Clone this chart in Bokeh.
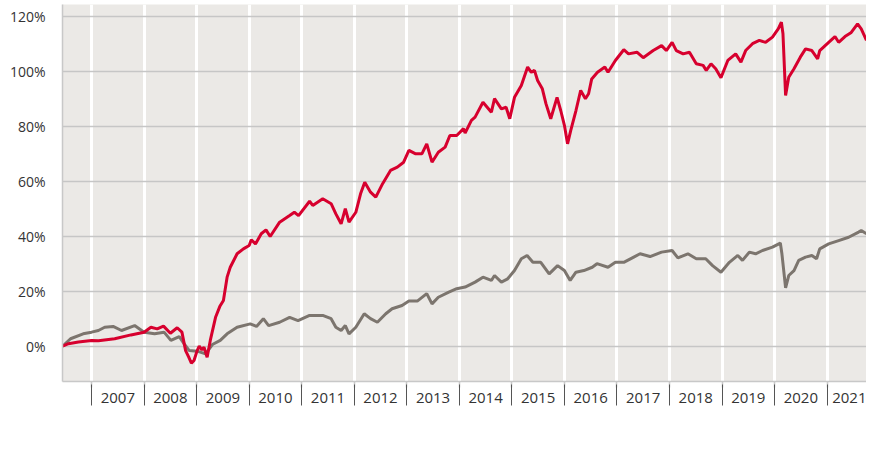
from bokeh.plotting import figure
from bokeh.models import (Range1d, FixedTicker, LinearAxis, Legend, LegendItem,
                          PrintfTickFormatter, CustomJSTickFormatter)
from bokeh.embed import file_html
from bokeh.resources import INLINE

# ---------------- data (decimal years, cumulative performance in %) ----------------
years = list(range(2007, 2022))
year_labels = [str(y) for y in years]
y_ticks = [0, 20, 40, 60, 80, 100, 120]

series_names = ["StarCapital Multi Income A", "Morningstar-Peergroup Mischfonds EUR defensiv"]

red_t = [2006.45, 2006.56, 2006.75, 2007.0, 2007.13, 2007.44, 2007.75, 2008.0, 2008.13, 2008.25,
         2008.37, 2008.5, 2008.63, 2008.72, 2008.79, 2008.85, 2008.9, 2008.95, 2009.01, 2009.05,
         2009.1, 2009.14, 2009.2, 2009.26, 2009.36, 2009.44, 2009.51, 2009.58, 2009.64, 2009.77,
         2009.89, 2010.0, 2010.04, 2010.12, 2010.23, 2010.32, 2010.4, 2010.58, 2010.77, 2010.86,
         2010.94, 2011.15, 2011.21, 2011.4, 2011.56, 2011.65, 2011.75, 2011.83, 2011.9, 2012.03,
         2012.12, 2012.2, 2012.31, 2012.41, 2012.54, 2012.69, 2012.82, 2012.94, 2013.04, 2013.16,
         2013.29, 2013.38, 2013.48, 2013.6, 2013.73, 2013.82, 2013.95, 2014.08, 2014.11, 2014.23,
         2014.3, 2014.45, 2014.61, 2014.67, 2014.8, 2014.89, 2014.96, 2015.05, 2015.18, 2015.3,
         2015.37, 2015.43, 2015.49, 2015.58, 2015.65, 2015.74, 2015.86, 2015.93, 2016.0, 2016.06,
         2016.12, 2016.22, 2016.31, 2016.4, 2016.46, 2016.52, 2016.63, 2016.77, 2016.83, 2016.97,
         2017.13, 2017.22, 2017.38, 2017.5, 2017.69, 2017.85, 2017.94, 2018.05, 2018.13, 2018.26,
         2018.38, 2018.51, 2018.64, 2018.7, 2018.79, 2018.88, 2018.98, 2019.11, 2019.26, 2019.36,
         2019.45, 2019.58, 2019.71, 2019.83, 2019.96, 2020.07, 2020.13, 2020.16, 2020.21, 2020.27,
         2020.37, 2020.49, 2020.59, 2020.71, 2020.82, 2020.86, 2021.03, 2021.15, 2021.22, 2021.34,
         2021.46, 2021.58, 2021.65, 2021.75]
red_v = [0.0, 0.9, 1.5, 2.1, 2.0, 2.7, 4.1, 5.1, 6.9, 6.3,
         7.3, 4.7, 6.7, 5.1, -1.6, -4.0, -6.2, -5.2, -1.6, 0.0,
         -1.3, -0.4, -4.0, 2.1, 10.5, 14.4, 16.6, 25.1, 28.7, 33.6,
         35.4, 36.6, 38.7, 37.2, 40.9, 42.3, 39.9, 45.1, 47.5, 48.7,
         47.5, 52.7, 51.2, 53.6, 51.8, 48.1, 44.5, 50.0, 45.1, 48.7,
         55.4, 59.6, 56.0, 54.2, 59.1, 63.9, 65.1, 66.9, 71.2, 70.0,
         70.0, 73.6, 66.9, 70.5, 72.4, 76.6, 76.6, 79.1, 77.5, 82.1,
         83.3, 88.7, 85.1, 90.0, 86.3, 86.9, 82.7, 90.5, 94.8, 101.5,
         99.6, 100.3, 96.6, 93.6, 88.1, 82.7, 90.5, 85.7, 80.3, 73.6,
         78.4, 85.7, 93.0, 90.0, 91.8, 97.2, 99.6, 101.5, 99.6, 103.9,
         107.8, 106.3, 106.9, 104.9, 107.5, 109.3, 107.5, 110.5, 107.5, 106.3,
         106.9, 102.7, 102.1, 100.3, 102.7, 100.9, 97.6, 103.9, 106.3, 103.3,
         107.5, 110.0, 111.2, 110.5, 112.4, 115.4, 117.8, 113.6, 91.2, 97.8,
         100.9, 105.1, 108.1, 107.5, 104.5, 107.5, 110.5, 112.6, 110.5, 112.6,
         114.1, 117.2, 115.4, 111.2]

gray_t = [2006.45, 2006.6, 2006.84, 2007.0, 2007.13, 2007.25, 2007.41, 2007.57, 2007.82, 2008.0,
          2008.2, 2008.38, 2008.51, 2008.67, 2008.76, 2008.86, 2009.01, 2009.17, 2009.3, 2009.45,
          2009.58, 2009.77, 2010.02, 2010.14, 2010.27, 2010.37, 2010.58, 2010.77, 2010.93, 2011.15,
          2011.4, 2011.56, 2011.65, 2011.75, 2011.83, 2011.9, 2012.03, 2012.19, 2012.31, 2012.44,
          2012.6, 2012.72, 2012.91, 2013.04, 2013.2, 2013.38, 2013.48, 2013.6, 2013.79, 2013.95,
          2014.11, 2014.3, 2014.45, 2014.61, 2014.67, 2014.8, 2014.92, 2015.05, 2015.18, 2015.29,
          2015.4, 2015.55, 2015.71, 2015.87, 2016.0, 2016.11, 2016.22, 2016.37, 2016.53, 2016.62,
          2016.83, 2016.97, 2017.13, 2017.32, 2017.44, 2017.63, 2017.85, 2018.05, 2018.16, 2018.35,
          2018.51, 2018.69, 2018.82, 2018.98, 2019.14, 2019.3, 2019.39, 2019.52, 2019.64, 2019.77,
          2019.96, 2020.11, 2020.14, 2020.21, 2020.27, 2020.37, 2020.46, 2020.59, 2020.71, 2020.8,
          2020.86, 2021.03, 2021.22, 2021.41, 2021.6, 2021.65, 2021.75]
gray_v = [0.0, 2.7, 4.5, 5.1, 5.7, 6.9, 7.2, 5.7, 7.5, 5.1,
          4.5, 5.1, 2.1, 3.5, 0.9, -1.6, -1.8, -2.8, 0.6, 2.1,
          4.5, 6.9, 8.1, 7.2, 10.0, 7.5, 8.7, 10.5, 9.3, 11.2,
          11.2, 10.0, 6.9, 5.7, 7.5, 4.5, 6.9, 11.8, 10.0, 8.7,
          11.8, 13.6, 14.8, 16.4, 16.4, 19.1, 15.4, 17.8, 19.6, 20.9,
          21.5, 23.3, 25.1, 23.9, 25.7, 23.3, 24.5, 27.5, 31.8, 33.0,
          30.5, 30.5, 26.3, 29.3, 27.5, 23.9, 26.9, 27.5, 28.7, 30.0,
          28.7, 30.5, 30.5, 32.4, 33.6, 32.6, 34.2, 34.8, 32.1, 33.6,
          31.8, 31.8, 29.3, 26.9, 30.5, 33.0, 31.2, 34.2, 33.6, 34.8,
          36.0, 37.5, 33.6, 21.2, 25.7, 27.5, 31.2, 32.4, 33.0, 31.8,
          35.4, 37.2, 38.4, 39.6, 41.5, 42.1, 40.9]

# ---------------- styling ----------------
RED = "#d7002e"
GRAY = "#7c756e"
FONT = "Open Sans"
TXT = "#333333"

p = figure(width=866, height=446, output_backend="svg", toolbar_location=None, title=None,
           x_range=Range1d(2006.447, 2021.75), y_range=Range1d(-12.84, 124.25),
           min_border_left=62, min_border_right=0, min_border_top=4, min_border_bottom=65)
p.background_fill_color = "#ebe9e6"
p.border_fill_color = "white"
p.outline_line_color = None

r_gray = p.line(gray_t, gray_v, line_color=GRAY, line_width=3)
r_red = p.line(red_t, red_v, line_color=RED, line_width=3)

# main x axis: year labels centred in each year, short light ticks at year boundaries
xa = p.xaxis[0]
xa.ticker = FixedTicker(ticks=[y + 0.5 for y in years], minor_ticks=years)
xa.formatter = CustomJSTickFormatter(args=dict(labels=year_labels, start=years[0]),
                                     code="const i = Math.round(tick - 0.5) - start; return (i >= 0 && i < labels.length) ? labels[i] : '';")
xa.axis_line_color = "#c8c8c8"
xa.axis_line_width = 1.5
xa.major_tick_line_color = None
xa.major_tick_in = 0
xa.major_tick_out = 0
xa.minor_tick_in = 0
xa.minor_tick_out = 6
xa.minor_tick_line_color = "#c8c8c8"
xa.minor_tick_line_width = 1.5
xa.major_label_standoff = 5
xa.major_label_text_font = FONT
xa.major_label_text_font_size = "15px"
xa.major_label_text_color = TXT

# separator axis below: dark ticks at the year boundaries reaching up between the labels
sep_axis = LinearAxis(ticker=FixedTicker(ticks=years), axis_line_color=None,
                      major_tick_in=21, major_tick_out=0, major_tick_line_color="#555555",
                      major_tick_line_width=1, minor_tick_line_color=None,
                      major_label_text_color=None, major_label_standoff=0)
p.add_layout(sep_axis, "below")

# y axis
ya = p.yaxis[0]
ya.ticker = FixedTicker(ticks=y_ticks)
ya.formatter = PrintfTickFormatter(format="%d%%")
ya.axis_line_color = "#c8c8c8"
ya.axis_line_width = 1.5
ya.major_tick_line_color = None
ya.major_tick_in = 0
ya.major_tick_out = 0
ya.minor_tick_line_color = None
ya.major_label_standoff = 17
ya.major_label_text_font = FONT
ya.major_label_text_font_size = "14px"
ya.major_label_text_color = TXT

# grids
p.xgrid.ticker = FixedTicker(ticks=years)
p.xgrid.grid_line_color = "white"
p.xgrid.grid_line_width = 3
p.ygrid.ticker = FixedTicker(ticks=y_ticks)
p.ygrid.grid_line_color = "#c6c6c6"
p.ygrid.grid_line_width = 1.5

# legend below the chart
legend = Legend(items=[LegendItem(label=series_names[0], renderers=[r_red]),
                       LegendItem(label=series_names[1], renderers=[r_gray])],
                orientation="horizontal", location=(57, -65),
                label_text_font=FONT, label_text_font_size="14px", label_text_color=TXT,
                glyph_width=40, glyph_height=14, label_standoff=9, spacing=17,
                padding=0, margin=0, border_line_color=None, background_fill_alpha=0)
p.add_layout(legend)

open("out.html", "w").write(file_html(p, INLINE))
